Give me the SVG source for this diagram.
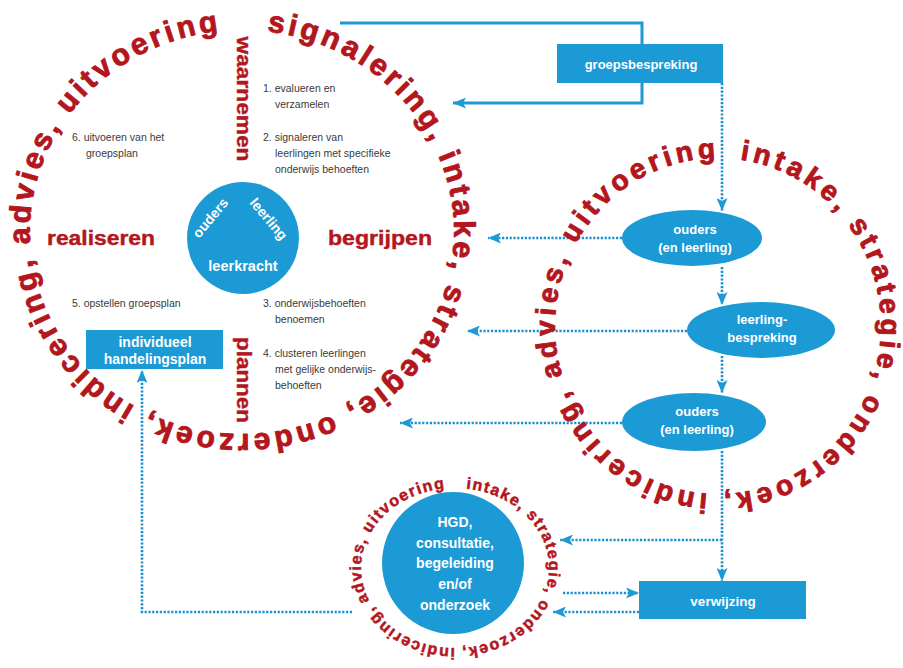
<svg xmlns="http://www.w3.org/2000/svg" width="903" height="668" viewBox="0 0 903 668">
<style>
.ring{font-family:"Liberation Sans",Arial,sans-serif;font-weight:bold;fill:#b3161d;stroke:#b3161d;stroke-linejoin:round}
.lbl{font-family:"Liberation Sans",Arial,sans-serif;font-weight:bold;fill:#b3161d;font-size:20px;stroke:#b3161d;stroke-width:0.4}
.num{font-family:"Liberation Sans",Arial,sans-serif;font-size:10.5px;fill:#3a3a3a}
.wt{font-family:"Liberation Sans",Arial,sans-serif;font-weight:bold;fill:#fff;text-anchor:middle}
.box{fill:#1b9ad6}
.solid{fill:none;stroke:#1b9ad6;stroke-width:3}
.dot{fill:none;stroke:#1b8fcf;stroke-width:2.6;stroke-dasharray:2.2 1.6}
</style>
<defs>
<marker id="ah" markerUnits="userSpaceOnUse" markerWidth="13" markerHeight="11" refX="13" refY="5.5" orient="auto">
<path d="M0,0 L13,5.5 L0,11 L3,5.5 Z" fill="#1b9ad6"/>
</marker>
<path id="pL" d="M242,30 A212,202 0 1,1 242,434 A212,202 0 1,1 242,30"/>
<path id="pR" d="M718,158 A163,168 0 1,1 718,494 A163,168 0 1,1 718,158"/>
<path id="pS" d="M455,488 A94,80 0 1,1 455,648 A94,80 0 1,1 455,488"/>
</defs>
<rect width="903" height="668" fill="#fff"/>

<g id="connectors">
<polyline class="solid" points="340,23 642,23 642,44"/>
<polyline class="solid" points="642,83 642,103 453,103" marker-end="url(#ah)"/>
<line class="dot" x1="722" y1="83" x2="722" y2="211" marker-end="url(#ah)"/>
<line class="dot" x1="622" y1="238" x2="488" y2="238" marker-end="url(#ah)"/>
<line class="dot" x1="722" y1="267" x2="722" y2="305" marker-end="url(#ah)"/>
<line class="dot" x1="687" y1="331" x2="467" y2="331" marker-end="url(#ah)"/>
<line class="dot" x1="722" y1="356" x2="722" y2="393" marker-end="url(#ah)"/>
<line class="dot" x1="622" y1="423" x2="400" y2="423" marker-end="url(#ah)"/>
<line class="dot" x1="722" y1="451" x2="722" y2="581" marker-end="url(#ah)"/>
<line class="dot" x1="722" y1="540" x2="560" y2="540" marker-end="url(#ah)"/>
<line class="dot" x1="563" y1="593" x2="639" y2="593" marker-end="url(#ah)"/>
<line class="dot" x1="639" y1="612" x2="553" y2="612" marker-end="url(#ah)"/>
<polyline class="dot" points="352,612 142,612 142,370" marker-end="url(#ah)"/>
</g>

<g id="ring-left">
<text class="ring" font-size="30" stroke-width="0.9"><textPath href="#pL" startOffset="25" textLength="1252" lengthAdjust="spacing">signalering, intake, strategie, onderzoek, indicering, advies, uitvoering</textPath></text>
</g>
<g id="ring-right">
<text class="ring" font-size="28" stroke-width="0.9"><textPath href="#pR" startOffset="22" textLength="1015" lengthAdjust="spacing">intake, strategie, onderzoek, indicering, advies, uitvoering</textPath></text>
</g>
<g id="ring-small">
<text class="ring" font-size="16" stroke-width="0.5"><textPath href="#pS" startOffset="11" textLength="525" lengthAdjust="spacing">intake, strategie, onderzoek, indicering, advies, uitvoering</textPath></text>
</g>

<g id="labels">
<text class="lbl" transform="translate(237,99) rotate(90)" text-anchor="middle" textLength="125" lengthAdjust="spacingAndGlyphs">waarnemen</text>
<text class="lbl" transform="translate(237,380) rotate(90)" text-anchor="middle" textLength="86" lengthAdjust="spacingAndGlyphs">plannen</text>
<text class="lbl" x="47" y="245" textLength="108" lengthAdjust="spacingAndGlyphs">realiseren</text>
<text class="lbl" x="328" y="245" textLength="104" lengthAdjust="spacingAndGlyphs">begrijpen</text>
</g>

<g id="steps">
<text class="num" x="263" y="92">1. evalueren en</text>
<text class="num" x="275" y="108">verzamelen</text>
<text class="num" x="263" y="141">2. signaleren van</text>
<text class="num" x="275" y="157">leerlingen met specifieke</text>
<text class="num" x="275" y="173">onderwijs behoeften</text>
<text class="num" x="72" y="141">6. uitvoeren van het</text>
<text class="num" x="86" y="157">groepsplan</text>
<text class="num" x="72" y="307">5. opstellen groepsplan</text>
<text class="num" x="263" y="307">3. onderwijsbehoeften</text>
<text class="num" x="275" y="323">benoemen</text>
<text class="num" x="263" y="357">4. clusteren leerlingen</text>
<text class="num" x="275" y="373">met gelijke onderwijs-</text>
<text class="num" x="275" y="389">behoeften</text>
</g>

<g id="center">
<circle class="box" cx="243" cy="238" r="56"/>
<text class="wt" font-size="14" transform="translate(214,221) rotate(-50)">ouders</text>
<text class="wt" font-size="14" transform="translate(265,222) rotate(50)">leerling</text>
<text class="wt" font-size="14.5" x="243" y="271">leerkracht</text>
</g>

<g id="groepsbespreking">
<rect class="box" x="557" y="44" width="166" height="39"/>
<text class="wt" font-size="13" x="641" y="69">groepsbespreking</text>
</g>

<g id="ouders1">
<ellipse class="box" cx="692" cy="238" rx="70" ry="28"/>
<text class="wt" font-size="13" x="695" y="234">ouders</text>
<text class="wt" font-size="13" x="695" y="252">(en leerling)</text>
</g>

<g id="leerlingbespreking">
<ellipse class="box" cx="761" cy="330" rx="74" ry="28"/>
<text class="wt" font-size="13" x="762" y="324">leerling-</text>
<text class="wt" font-size="13" x="762" y="342">bespreking</text>
</g>

<g id="ouders2">
<ellipse class="box" cx="694" cy="422" rx="72" ry="29"/>
<text class="wt" font-size="13" x="697" y="416">ouders</text>
<text class="wt" font-size="13" x="697" y="434">(en leerling)</text>
</g>

<g id="verwijzing">
<rect class="box" x="639" y="581" width="167" height="38"/>
<text class="wt" font-size="13.5" x="723" y="606">verwijzing</text>
</g>

<g id="individueel">
<rect class="box" x="86" y="330" width="137" height="39"/>
<text class="wt" font-size="14" x="155" y="347">individueel</text>
<text class="wt" font-size="14" x="155" y="364">handelingsplan</text>
</g>

<g id="hgd">
<circle class="box" cx="453" cy="563" r="71"/>
<text class="wt" font-size="14" x="455" y="527">HGD,</text>
<text class="wt" font-size="14" x="455" y="548">consultatie,</text>
<text class="wt" font-size="14" x="455" y="568">begeleiding</text>
<text class="wt" font-size="14" x="455" y="589">en/of</text>
<text class="wt" font-size="14" x="455" y="610">onderzoek</text>
</g>
</svg>
